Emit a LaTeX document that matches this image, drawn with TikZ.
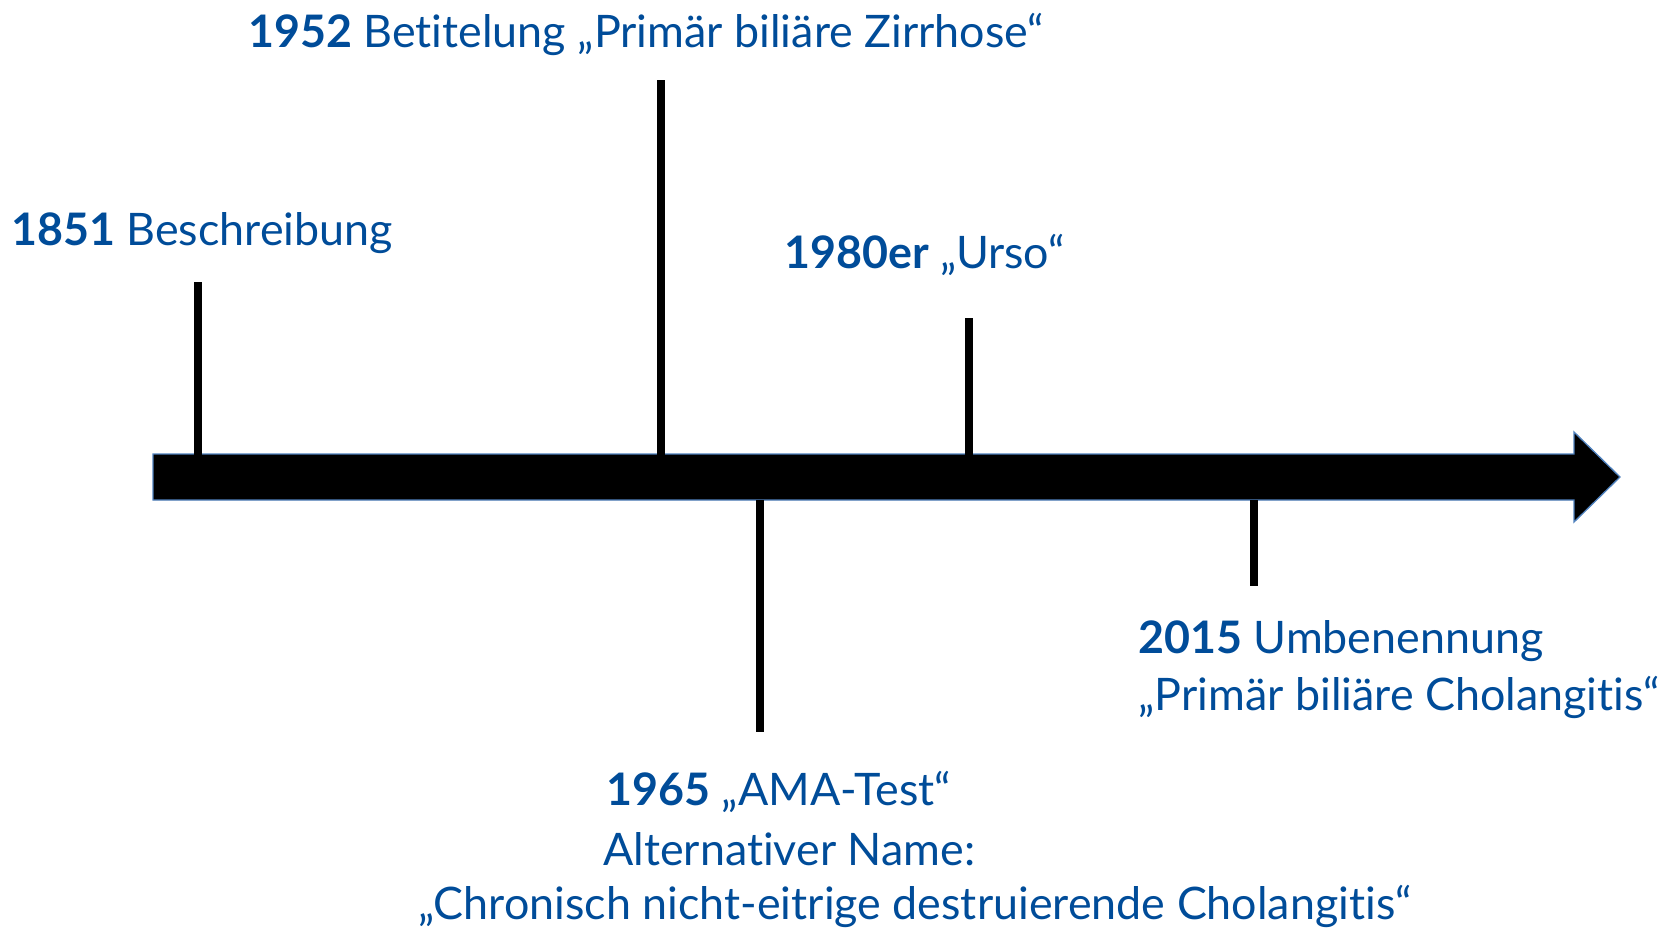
\documentclass[tikz,border=0pt]{standalone}
\usepackage{fontspec}
\setmainfont[Ligatures=NoCommon]{Lato}
\usepackage{xcolor}
\usepackage{tikz}
\definecolor{tlblue}{RGB}{0,76,153}
\definecolor{tledge}{RGB}{79,129,189}
\tikzset{
  lbl/.style={anchor=west,inner sep=0pt,text=tlblue,font=\fontsize{33.6}{42.75}\selectfont,align=left},
  tick/.style={line width=6pt},
}

\begin{document}
\begin{tikzpicture}[x=0.75pt,y=0.75pt,yscale=-1,xscale=1]
\useasboundingbox (0,0) rectangle (1679,928);

%Timeline arrow
\draw [fill=black,draw=tledge,line width=1pt] (153,454) -- (1574,454) -- (1574,432) -- (1620,477) -- (1574,522) -- (1574,500) -- (153,500) -- cycle ;

%Tick ends on the arrow
\coordinate (a1851) at (198,455) ;
\coordinate (a1952) at (661,455) ;
\coordinate (a1980) at (969,455) ;
\coordinate (a1965) at (760,500) ;
\coordinate (a2015) at (1254,500) ;
%Free ends
\coordinate (e1851) at (198,282) ;
\coordinate (e1952) at (661,80) ;
\coordinate (e1980) at (969,318) ;
\coordinate (e1965) at (760,732) ;
\coordinate (e2015) at (1254,586) ;

%Straight Lines
\draw [tick] (a1851) -- (e1851) ;
\draw [tick] (a1952) -- (e1952) ;
\draw [tick] (a1980) -- (e1980) ;
\draw [tick] (a1965) -- (e1965) ;
\draw [tick] (a2015) -- (e2015) ;

% Text Node
\node (t1851) at (11,233) [lbl] {\textbf{1851} Beschreibung};
% Text Node
\node (t1952) at (248,34) [lbl] {\textbf{1952} Betitelung „Primär biliäre Zirrhose“};
% Text Node
\node (t1980) at (784,255) [lbl] {\textbf{1980er} „Urso“};
% Text Node
\node (t1965) at (606,792) [lbl] {\textbf{1965} „AMA-Test“};
% Text Node
\node (t1965b) at (603,849) [lbl] {Alternativer Name:};
% Text Node
\node (t1965c) at (418,906) [lbl] {„Chronisch nicht-eitrige destruierende Cholangitis“};
% Text Node
\node (t2015) at (1138,669.5) [lbl] {\textbf{2015} Umbenennung\\„Primär biliäre Cholangitis“};

\end{tikzpicture}
\end{document}
